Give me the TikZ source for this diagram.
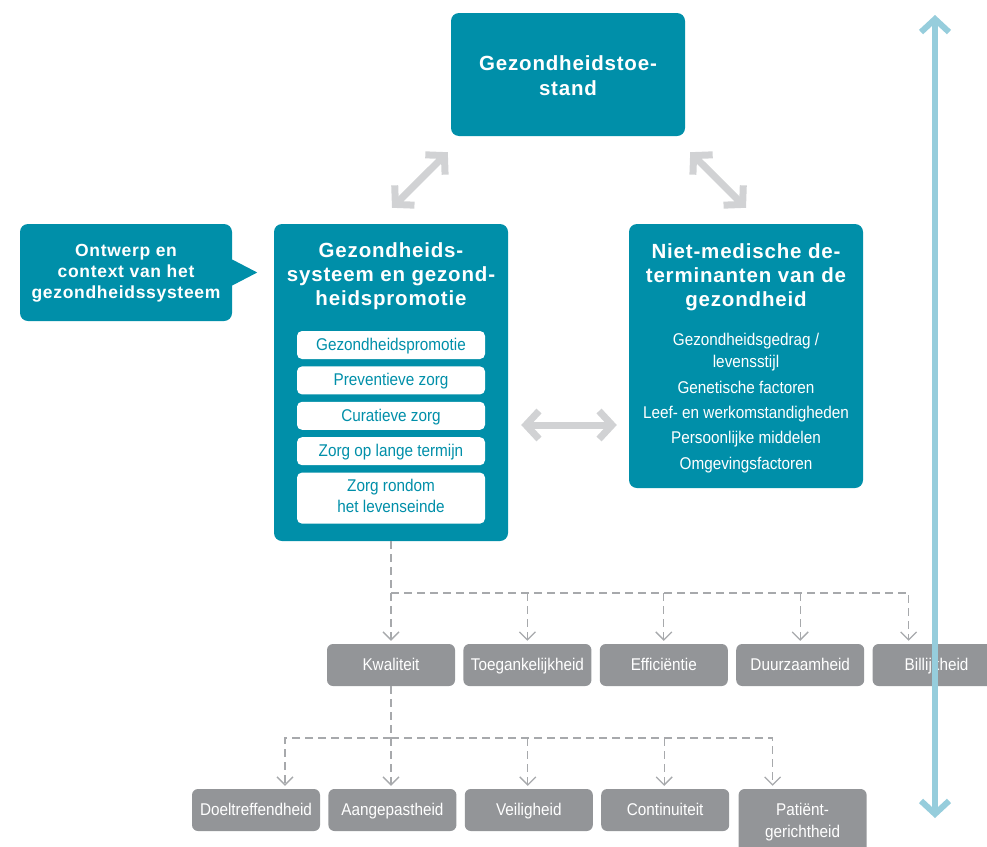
\documentclass[tikz,border=0pt]{standalone}
\usepackage{fontspec}
\setmainfont{Liberation Sans}
\newfontfamily\kopfont[LetterSpace=4]{Liberation Sans}
\newfontfamily\smalfont[FakeStretch=0.9]{Liberation Sans}
\usetikzlibrary{arrows.meta, positioning, calc}

\definecolor{zorgteal}{HTML}{008FA9}
\definecolor{kwalgray}{HTML}{939598}
\definecolor{pijlgray}{HTML}{D1D2D4}
\definecolor{asblue}{HTML}{96CDDC}
\definecolor{streepgray}{HTML}{A7A9AC}

\newcommand{\boxstrut}{\rule[-4pt]{0pt}{19pt}}

\begin{document}
\begin{tikzpicture}[x=1pt, y=-1pt,
    tealbox/.style={rectangle, fill=zorgteal, rounded corners=8pt, minimum width=234pt, inner sep=0pt},
    titletext/.style={text=white, align=center, inner sep=0pt, font=\kopfont\bfseries\fontsize{20.5}{24}\selectfont},
    itembox/.style={rectangle, fill=white, rounded corners=5pt, minimum width=188pt, minimum height=28pt, inner sep=0pt, align=center, text=zorgteal, font=\smalfont\fontsize{17}{21}\selectfont, execute at begin node=\boxstrut},
    graybox/.style={rectangle, fill=kwalgray, rounded corners=6pt, minimum width=128pt, minimum height=42pt, inner sep=0pt, align=center, text=white, font=\smalfont\fontsize{17}{22}\selectfont, execute at begin node=\boxstrut},
    bigarrow/.style={draw=pijlgray, line width=7pt, {Straight Barb[length=13pt, width=28pt, line cap=butt, line join=miter]}-{Straight Barb[length=13pt, width=28pt, line cap=butt, line join=miter]}},
    dashconn/.style={draw=streepgray, line width=1.3pt, dash pattern=on 8pt off 5pt, shorten >=3pt, -{Straight Barb[length=8pt, width=16pt]}},
    axisarrow/.style={draw=asblue, line width=6pt, {Straight Barb[length=13pt, width=28pt, line cap=butt, line join=miter]}-{Straight Barb[length=13pt, width=28pt, line cap=butt, line join=miter]}}
  ]
  \useasboundingbox (0,0) rectangle (987,846);

  % Main boxes
  \node (top) [tealbox, minimum height=123pt] at (568,74.5) {};
  \node (toptitle) [titletext, font=\kopfont\bfseries\fontsize{20.5}{25}\selectfont] at (568,76) {Gezondheidstoe-\\stand};

  \node (call) [tealbox, minimum width=212pt, minimum height=97pt] at (126,272.5) {};
  \fill[zorgteal] ([yshift=13pt]call.east) -- ++(25,13) -- ([yshift=-13pt]call.east) -- cycle;
  \node (calltitle) [titletext, font=\kopfont\bfseries\fontsize{17.5}{21}\selectfont] at (126,273) {Ontwerp en\\context van het\\gezondheidssysteem};

  \node (sys) [tealbox, minimum height=317pt] at (391,382.5) {};
  \node (systitle) [titletext] at (391,276) {Gezondheids-\\systeem en gezond-\\heidspromotie};
  \node (item1) [itembox] at (391,345) {Gezondheidspromotie};
  \node (item2) [itembox, below=7pt of item1] {Preventieve zorg};
  \node (item3) [itembox, below=7pt of item2] {Curatieve zorg};
  \node (item4) [itembox, below=7pt of item3] {Zorg op lange termijn};
  \node (item5) [itembox, below=7pt of item4, minimum height=51pt] {Zorg rondom\\het levenseinde};

  \node (det) [tealbox, minimum height=264pt] at (746,356) {};
  \node (dettitle) [titletext] at (746,277) {Niet-medische de-\\terminanten van de\\gezondheid};
  \node (detlist) [text=white, align=center, inner sep=0pt, font=\smalfont\fontsize{17}{25.3}\selectfont] at (746,403)
    {Gezondheidsgedrag /\\[-3pt]levensstijl\\Genetische factoren\\Leef- en werkomstandigheden\\Persoonlijke middelen\\Omgevingsfactoren};

  % Quality boxes
  \node (kwal) [graybox] at (391,665) {Kwaliteit};
  \node (toeg) [graybox, right=8pt of kwal] {Toegankelijkheid};
  \node (eff) [graybox, right=8pt of toeg] {Efficiëntie};
  \node (duur) [graybox, right=8pt of eff] {Duurzaamheid};
  \node (bill) [graybox, right=8pt of duur] {Billijkheid};

  \node (doel) [graybox] at (256,810) {Doeltreffendheid};
  \node (aang) [graybox, right=8pt of doel] {Aangepastheid};
  \node (veil) [graybox, right=8pt of aang] {Veiligheid};
  \node (cont) [graybox, right=8pt of veil] {Continuiteit};
  \node (pat) [graybox, minimum height=66pt, anchor=north west] at ($(cont.north east)+(9,0)$) {Patiënt-\\gerichtheid};

  % Arrows
  \draw[bigarrow] ($(sys.north)+(1,-16)$) -- ($(top.south west)+(-3,16)$);
  \draw[bigarrow] ($(top.south east)+(5,16)$) -- ($(det.north)+(0,-16)$);
  \draw[bigarrow] ([xshift=13pt]sys.east |- 0,425) -- ([xshift=-12pt]det.west |- 0,425);

  % Dashed connectors
  \coordinate (hub1) at (391,593);
  \draw[dashconn] (sys.south) -- (kwal.north);
  \draw[dashconn] (hub1) -| ([xshift=-28pt]bill.north);
  \draw[dashconn] (toeg.north |- hub1) -- (toeg.north);
  \draw[dashconn] (eff.north |- hub1) -- (eff.north);
  \draw[dashconn] (duur.north |- hub1) -- (duur.north);

  \coordinate (hub2) at (391,738);
  \draw[dashconn] (kwal.south) -- (kwal.south |- aang.north);
  \draw[dashconn] (hub2) -| ([xshift=29pt]doel.north);
  \draw[dashconn] (hub2) -| ([xshift=-30pt]pat.north);
  \draw[dashconn] ([xshift=-1pt]veil.north |- hub2) -- ([xshift=-1pt]veil.north);
  \draw[dashconn] ([xshift=-1pt]cont.north |- hub2) -- ([xshift=-1pt]cont.north);

  % Axis
  \coordinate (axtop) at (935,15);
  \coordinate (axbot) at (935,818);
  \draw[axisarrow] (axtop) -- (axbot);
\end{tikzpicture}
\end{document}
